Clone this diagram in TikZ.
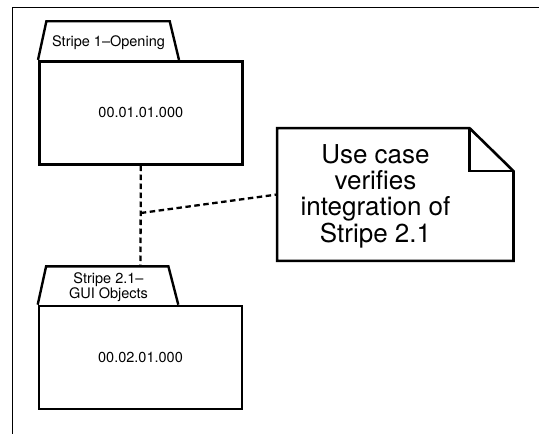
\documentclass[tikz,border=0pt]{standalone}
\usepackage{fontspec}
\setmainfont{TeX Gyre Heros}
\begin{document}
\begin{tikzpicture}[x=1pt,y=-1pt,
  box/.style={draw,line width=2.6pt,minimum width=203pt,minimum height=103pt,inner sep=0pt,font=\fontsize{14.5}{14.5}\selectfont},
  tabshape/.style={draw,line width=2.4pt,line join=miter},
  tabtext/.style={inner sep=0pt,align=center,font=\fontsize{14.5}{14.5}\selectfont},
  notebox/.style={minimum width=236pt,minimum height=132.4pt,inner sep=0pt},
  noteline/.style={draw,line width=2.6pt,line join=miter},
  notetext/.style={inner sep=0pt,align=center,font=\fontsize{26}{26.4}\selectfont},
  dashline/.style={line width=2.3pt,dash pattern=on 5.5pt off 3.5pt},
  frame/.style={line width=1.6pt}]
\useasboundingbox (0,0) rectangle (539,434);
% frame
\coordinate (fa) at (12.3,434);
\coordinate (fb) at (12.3,7.5);
\coordinate (fc) at (539,7.5);
\draw[frame] (fa) -- (fb) -- (fc);
% box 1
\node[box] (b1) at (140.8,112.7) {00.01.01.000};
\draw[tabshape] (b1.north west) -- ++(8.4,-38.7) coordinate (t1l) -- ++(123.3,0) coordinate (t1r) -- ([xshift=-64.6pt]b1.north east);
\node[tabtext] (t1text) at (108.5,43) {Stripe 1--Opening};
% box 2
\node[box] (b2) at (140.5,357.5) {00.02.01.000};
\draw[tabshape] (b2.north west) -- ++(8.4,-38.3) coordinate (t2l) -- ++(122.3,0) coordinate (t2r) -- ([xshift=-65pt]b2.north east);
\node[tabtext] (t2text) at (108.5,287) {Stripe 2.1--\\GUI Objects};
\coordinate (t2top) at (b2.north |- t2l);
% note
\node[notebox] (note) at (395.3,194.5) {};
\draw[noteline] (note.north west) -- ([xshift=-44pt]note.north east) coordinate (nf1)
  -- ([yshift=-43pt]note.north east) coordinate (nf2)
  -- (note.south east) -- (note.south west) -- cycle;
\draw[noteline] (nf1) -- (nf1 |- nf2) -- (nf2);
\node[notetext] (nt) at (375.5,196) {Use case\\verifies\\integration of\\Stripe 2.1};
% connectors
\coordinate (j) at (b1.south |- 0,213);
\draw[dashline] (b1.south) -- (t2top);
\draw[dashline] (j) -- (note.west);
\end{tikzpicture}
\end{document}
